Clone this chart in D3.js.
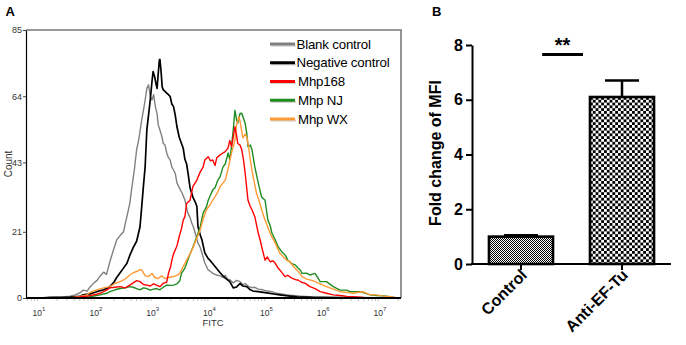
<!DOCTYPE html>
<html>
<head>
<meta charset="utf-8">
<script src="https://cdn.jsdelivr.net/npm/d3@7"></script>
<style>
  body { margin: 0; background: #fff; }
  svg { display: block; font-family: Arial, "Liberation Sans", sans-serif; }
</style>
</head>
<body>
<div id="okvir"></div>
<script>
// Panel A: histogram points, [log10(FITC), count]
const blankControl = [
  [1.00,0],[1.18,0.3],[1.35,0.2],[1.53,0.6],[1.62,1.0],[1.70,1.6],[1.76,2.5],[1.83,2.2],[1.88,3.5],
  [1.95,4.8],[2.00,5.5],[2.06,7.0],[2.12,8.2],[2.17,7.5],[2.23,11.5],[2.28,14.5],[2.35,18.4],[2.41,19.8],
  [2.47,21.0],[2.50,23.5],[2.55,27.5],[2.58,30.0],[2.62,35.5],[2.66,40.6],[2.70,47.0],[2.74,50.5],
  [2.79,56.5],[2.82,59.5],[2.85,62.8],[2.88,66.5],[2.91,67.6],[2.94,64.0],[2.97,62.8],[3.00,64.5],
  [3.03,60.7],[3.06,58.5],[3.08,55.0],[3.11,53.3],[3.14,51.5],[3.17,49.0],[3.20,48.5],[3.23,46.0],
  [3.26,44.5],[3.29,43.8],[3.32,41.5],[3.35,40.6],[3.38,39.5],[3.41,36.5],[3.45,35.0],[3.50,33.3],
  [3.55,31.1],[3.60,27.0],[3.64,25.5],[3.67,23.8],[3.70,22.5],[3.73,20.6],[3.78,17.4],[3.82,16.0],
  [3.85,14.3],[3.90,11.1],[3.96,8.9],[4.00,8.4],[4.04,7.8],[4.10,7.3],[4.17,7.0],[4.22,6.5],[4.26,7.2],
  [4.30,6.0],[4.34,5.8],[4.40,4.8],[4.46,5.6],[4.52,5.2],[4.57,4.2],[4.61,4.6],[4.66,3.8],[4.72,3.3],
  [4.78,3.4],[4.84,2.8],[4.92,2.6],[5.00,2.2],[5.08,2.0],[5.14,1.6],[5.22,1.4],[5.34,1.0],[5.45,0.8],
  [5.58,0.6],[5.75,0.4],[5.93,0.3],[6.20,0.2],[6.60,0.1],[7.00,0.05],[7.30,0]
]
const negativeControl = [
  [1.00,0],[1.30,0.2],[1.53,0.3],[1.70,0.5],[1.76,1.0],[1.88,1.3],[2.00,2.0],[2.12,2.6],[2.23,3.6],
  [2.30,5.0],[2.35,6.5],[2.41,8.0],[2.45,9.0],[2.53,11.0],[2.58,13.5],[2.64,16.0],[2.70,18.0],[2.72,19.5],
  [2.76,22.6],[2.79,29.0],[2.82,35.5],[2.85,41.6],[2.88,53.3],[2.91,58.0],[2.94,62.8],[2.97,68.5],
  [2.99,71.8],[3.02,70.0],[3.04,68.0],[3.06,66.5],[3.08,71.0],[3.10,75.5],[3.11,75.7],[3.13,72.0],
  [3.15,67.0],[3.17,66.0],[3.20,65.5],[3.23,65.0],[3.26,64.5],[3.29,63.9],[3.32,61.5],[3.35,60.7],
  [3.38,58.0],[3.41,54.3],[3.45,51.0],[3.49,49.0],[3.52,47.5],[3.55,44.0],[3.58,42.5],[3.61,39.0],
  [3.64,35.0],[3.69,32.0],[3.73,30.5],[3.76,29.0],[3.78,22.6],[3.82,20.0],[3.85,18.4],[3.90,14.3],
  [3.96,12.5],[3.99,12.0],[4.08,10.0],[4.17,8.0],[4.22,7.0],[4.26,6.3],[4.34,5.2],[4.40,3.2],[4.46,3.5],
  [4.52,4.6],[4.57,3.8],[4.64,3.6],[4.70,2.6],[4.75,2.2],[4.84,2.0],[4.99,1.6],[5.14,1.2],[5.22,1.0],
  [5.40,0.6],[5.52,0.4],[5.80,0.2],[6.20,0.1],[7.00,0.05],[7.30,0]
]
const mhp168 = [
  [1.53,0],[1.70,0.3],[1.83,0.6],[2.00,1.2],[2.06,1.5],[2.17,2.5],[2.23,3.2],[2.32,3.4],[2.41,3.6],
  [2.50,3.2],[2.58,4.1],[2.64,4.8],[2.70,5.5],[2.76,5.2],[2.82,4.3],[2.88,4.1],[2.94,3.8],[3.00,4.5],
  [3.05,4.1],[3.11,3.6],[3.17,4.7],[3.23,5.0],[3.26,7.8],[3.30,10.0],[3.32,12.0],[3.35,14.0],[3.41,16.5],
  [3.45,19.5],[3.49,22.0],[3.52,24.7],[3.55,25.8],[3.58,30.0],[3.64,31.0],[3.69,35.3],[3.73,36.5],
  [3.76,37.4],[3.82,40.0],[3.87,41.5],[3.90,43.8],[3.96,44.8],[4.00,43.5],[4.04,43.8],[4.08,42.0],
  [4.11,44.5],[4.17,45.4],[4.22,46.0],[4.26,46.4],[4.31,47.6],[4.34,50.0],[4.37,48.0],[4.40,51.0],
  [4.43,54.3],[4.46,51.5],[4.48,49.0],[4.52,48.5],[4.55,47.0],[4.58,44.0],[4.61,39.6],[4.66,31.0],
  [4.70,29.0],[4.73,28.0],[4.78,25.8],[4.84,20.6],[4.88,18.0],[4.90,16.3],[4.96,12.0],[5.00,13.0],
  [5.05,11.5],[5.10,11.8],[5.14,11.0],[5.19,9.5],[5.22,8.9],[5.28,7.5],[5.31,6.8],[5.36,7.2],[5.43,6.3],
  [5.50,5.8],[5.54,5.7],[5.60,5.0],[5.66,4.7],[5.75,3.6],[5.84,3.0],[5.93,2.0],[6.04,1.5],[6.16,1.0],
  [6.28,0.8],[6.40,0.5],[6.51,0.4],[6.70,0.2],[7.00,0.1],[7.30,0]
]
const mhpNJ = [
  [1.70,0],[1.88,0.4],[2.06,1.0],[2.17,1.5],[2.23,2.0],[2.32,2.6],[2.41,3.0],[2.50,3.2],[2.58,3.6],
  [2.64,3.4],[2.70,3.0],[2.76,2.6],[2.82,3.2],[2.88,3.0],[2.94,2.5],[3.00,2.8],[3.05,3.0],[3.11,2.6],
  [3.17,3.4],[3.23,4.1],[3.29,4.0],[3.35,4.1],[3.41,4.5],[3.46,5.5],[3.49,7.8],[3.55,9.5],[3.58,11.0],
  [3.62,13.0],[3.67,15.2],[3.72,17.5],[3.76,19.5],[3.82,22.6],[3.87,26.9],[3.93,29.0],[3.96,31.0],
  [4.04,34.3],[4.08,35.0],[4.13,37.4],[4.17,38.5],[4.22,41.6],[4.26,42.5],[4.31,46.0],[4.34,44.0],
  [4.37,48.0],[4.40,53.3],[4.43,59.5],[4.46,56.5],[4.48,55.5],[4.52,58.5],[4.55,58.6],[4.58,57.0],
  [4.61,55.4],[4.64,52.0],[4.66,48.0],[4.70,48.5],[4.73,47.0],[4.78,41.6],[4.84,36.5],[4.90,32.0],
  [4.96,31.0],[5.01,24.7],[5.05,23.0],[5.08,20.6],[5.14,18.4],[5.19,16.3],[5.24,15.0],[5.28,14.2],
  [5.32,13.5],[5.36,12.0],[5.42,11.0],[5.49,10.5],[5.54,9.5],[5.58,8.9],[5.61,7.8],[5.69,7.9],[5.75,7.3],
  [5.84,7.8],[5.93,5.2],[6.04,5.2],[6.16,3.6],[6.28,2.5],[6.40,2.5],[6.45,2.0],[6.63,2.0],[6.81,1.0],
  [6.92,0.8],[7.10,0.6],[7.28,0]
]
const mhpWX = [
  [1.53,0],[1.70,0.5],[1.83,1.0],[1.88,1.8],[2.00,2.6],[2.12,3.2],[2.23,3.6],[2.32,4.6],[2.41,5.2],
  [2.50,6.0],[2.58,7.3],[2.64,8.0],[2.70,8.4],[2.76,9.0],[2.79,8.9],[2.85,7.0],[2.91,6.8],[2.97,7.8],
  [3.02,6.5],[3.08,6.2],[3.14,7.0],[3.20,6.2],[3.26,6.5],[3.35,6.8],[3.41,7.2],[3.46,7.8],[3.52,10.0],
  [3.58,12.0],[3.64,14.0],[3.70,16.3],[3.76,19.0],[3.82,21.6],[3.87,25.0],[3.93,28.0],[3.99,29.5],
  [4.04,31.0],[4.11,33.0],[4.17,35.3],[4.22,36.5],[4.26,37.4],[4.31,41.0],[4.37,46.0],[4.43,50.0],
  [4.46,55.0],[4.50,57.5],[4.52,56.0],[4.57,50.8],[4.61,52.0],[4.64,51.0],[4.67,48.0],[4.70,43.8],
  [4.75,38.5],[4.81,33.2],[4.86,30.5],[4.90,28.0],[4.96,24.7],[5.05,20.5],[5.14,17.4],[5.22,14.2],
  [5.34,12.0],[5.40,11.5],[5.46,10.0],[5.54,8.5],[5.61,6.8],[5.69,6.0],[5.80,5.5],[5.93,4.5],[6.04,3.6],
  [6.16,2.8],[6.28,2.0],[6.40,1.8],[6.51,1.5],[6.68,2.0],[6.81,1.0],[6.92,1.0],[7.05,0.6],[7.16,0.4],
  [7.30,0]
]
const seriesNames = ["Blank control", "Negative control", "Mhp168", "Mhp NJ", "Mhp WX"]
const countTicks = [0, 21, 43, 64, 85]
const fitcDecades = [1, 2, 3, 4, 5, 6, 7]

// Panel B: fold change of MFI
const groups = ["Control", "Anti-EF-Tu"]
const foldChange = [1.0, 6.1]
const foldError = [0.05, 0.6]
const foldTicks = [0, 2, 4, 6, 8]
const sigLevel = 7.65

const seriesColors = ["#808080", "#000000", "#ff0000", "#1f8c1f", "#ff9a35"]
const seriesWidths = [1.4, 1.7, 1.4, 1.4, 1.4]

const okvir = d3.select("#okvir")
  .append("svg")
  .attr("width", 686)
  .attr("height", 345)

okvir.append("rect").attr("width", 686).attr("height", 345).attr("fill", "#fff")

// ---------- PANEL A ----------
const histBox = { left: 26, right: 401, top: 30, bottom: 298 }

const xA = d3.scaleLog()
  .domain([10 ** 0.754, 10 ** 7.352])
  .range([histBox.left, histBox.right])
const yA = d3.scaleLinear()
  .domain([0, 85])
  .range([histBox.bottom, histBox.top])

const panelA = okvir.append("g")

// frame: gray on top and right
panelA.append("path")
  .attr("d", `M${histBox.left},${histBox.top}H${histBox.right}V${histBox.bottom}`)
  .attr("fill", "none")
  .attr("stroke", "#7a7a7a")
  .attr("stroke-width", 1.6)

// minor ticks under the x axis
const minorTicks = xA.ticks().filter(v => Math.abs(Math.log10(v) - Math.round(Math.log10(v))) > 1e-6)
panelA.selectAll(".minor")
  .data(minorTicks)
  .enter().append("line")
    .attr("x1", d => xA(d)).attr("x2", d => xA(d))
    .attr("y1", histBox.bottom).attr("y2", histBox.bottom + 3)
    .attr("stroke", "#999")
    .attr("stroke-width", 0.6)

const line = d3.line()
  .x(d => xA(10 ** d[0]))
  .y(d => yA(d[1]))

const allSeries = [blankControl, negativeControl, mhpNJ, mhpWX, mhp168]
const drawOrder = [0, 1, 3, 4, 2]
panelA.selectAll(".hist")
  .data(drawOrder)
  .enter().append("path")
    .attr("class", "hist")
    .attr("d", (k, i) => line(allSeries[i]))
    .attr("fill", "none")
    .attr("stroke", k => seriesColors[k])
    .attr("stroke-width", k => seriesWidths[k])
    .attr("stroke-linejoin", "round")

// left axis
const axisA = panelA.append("g")
  .attr("transform", `translate(${histBox.left},0)`)
  .call(d3.axisLeft(yA).tickValues(countTicks).tickSize(3).tickSizeOuter(0))
axisA.select(".domain").attr("stroke", "#000").attr("stroke-width", 1.2)
axisA.selectAll("text").attr("font-size", 9).attr("fill", "#333").attr("x", -4)
axisA.selectAll(".tick line").attr("stroke", "#444")

// bottom axis line
panelA.append("line")
  .attr("x1", histBox.left).attr("x2", histBox.right)
  .attr("y1", histBox.bottom).attr("y2", histBox.bottom)
  .attr("stroke", "#000")
  .attr("stroke-width", 2)

const decadeLabels = panelA.selectAll(".decade")
  .data(fitcDecades)
  .enter().append("text")
    .attr("class", "decade")
    .attr("x", d => xA(10 ** d) - 1)
    .attr("y", histBox.bottom + 18)
    .attr("text-anchor", "middle")
    .attr("font-size", 8.5)
    .attr("fill", "#333")
decadeLabels.append("tspan").text("10")
decadeLabels.append("tspan")
  .attr("font-size", 6)
  .attr("dy", -5)
  .text(d => d)

panelA.append("text")
  .attr("x", 213)
  .attr("y", 326)
  .attr("text-anchor", "middle")
  .attr("font-size", 9.5)
  .attr("fill", "#333")
  .text("FITC")

panelA.append("text")
  .attr("transform", "translate(12,164) rotate(-90)")
  .attr("text-anchor", "middle")
  .attr("font-size", 10)
  .attr("fill", "#333")
  .text("Count")

// legend
const legend = panelA.append("g")
const legendRow = d3.scalePoint().domain(seriesNames).range([43.5, 118.5])
legend.selectAll(".leg-shadow")
  .data(seriesNames)
  .enter().append("line")
    .attr("x1", 271).attr("x2", 296)
    .attr("y1", d => legendRow(d) + 2.2).attr("y2", d => legendRow(d) + 2.2)
    .attr("stroke", "#bbb")
    .attr("stroke-width", 2)
    .attr("opacity", 0.6)
legend.selectAll(".leg-line")
  .data(seriesNames)
  .enter().append("line")
    .attr("x1", 270).attr("x2", 295)
    .attr("y1", d => legendRow(d) + 0.5).attr("y2", d => legendRow(d) + 0.5)
    .attr("stroke", (d, i) => seriesColors[i])
    .attr("stroke-width", 3)
legend.selectAll(".leg-text")
  .data(seriesNames)
  .enter().append("text")
    .attr("x", (d, i) => i < 2 ? 296.5 : 298)
    .attr("y", d => legendRow(d) + 5)
    .attr("font-size", 13.3)
    .attr("letter-spacing", -0.2)
    .attr("fill", "#000")
    .text(d => d)

okvir.append("text")
  .attr("x", 5.5).attr("y", 15.5)
  .attr("font-size", 13)
  .attr("font-weight", "bold")
  .text("A")

// ---------- PANEL B ----------
const xB = d3.scaleBand()
  .domain(groups)
  .range([472, 671])
  .paddingInner(0.366)
  .paddingOuter(0.168)
const yB = d3.scaleLinear()
  .domain([0, 8])
  .range([264, 45])

const panelB = okvir.append("g")

const defs = okvir.append("defs")
const fine = defs.append("pattern")
  .attr("id", "check-fine")
  .attr("patternUnits", "userSpaceOnUse")
  .attr("width", 2).attr("height", 2)
fine.append("rect").attr("width", 2).attr("height", 2).attr("fill", "#fff")
fine.append("rect").attr("width", 1).attr("height", 1).attr("fill", "#000")
fine.append("rect").attr("x", 1).attr("y", 1).attr("width", 1).attr("height", 1).attr("fill", "#000")

const coarse = defs.append("pattern")
  .attr("id", "check-coarse")
  .attr("patternUnits", "userSpaceOnUse")
  .attr("x", 590).attr("y", 97)
  .attr("width", 5.6).attr("height", 5.6)
coarse.append("rect").attr("width", 5.6).attr("height", 5.6).attr("fill", "#fff")
coarse.append("rect").attr("width", 2.8).attr("height", 2.8).attr("fill", "#000")
coarse.append("rect").attr("x", 2.8).attr("y", 2.8).attr("width", 2.8).attr("height", 2.8).attr("fill", "#000")

const patterns = ["url(#check-fine)", "url(#check-coarse)"]

// error bars
const capWidth = 34
panelB.selectAll(".err")
  .data(groups)
  .enter().append("path")
    .attr("d", (g, i) => {
      const cx = xB(g) + xB.bandwidth() / 2
      const top = yB(foldChange[i] + foldError[i])
      return `M${cx},${yB(foldChange[i])}V${top}M${cx - capWidth / 2},${top}H${cx + capWidth / 2}`
    })
    .attr("fill", "none")
    .attr("stroke", "#000")
    .attr("stroke-width", 2.5)

panelB.selectAll(".bar")
  .data(groups)
  .enter().append("rect")
    .attr("x", g => xB(g))
    .attr("width", xB.bandwidth())
    .attr("y", (g, i) => yB(foldChange[i]))
    .attr("height", (g, i) => yB(0) - yB(foldChange[i]))
    .attr("fill", (g, i) => patterns[i])
    .attr("stroke", "#000")
    .attr("stroke-width", 2.6)

const axisYB = panelB.append("g")
  .attr("transform", "translate(472,0)")
  .call(d3.axisLeft(yB).tickValues(foldTicks).tickSize(6).tickSizeOuter(0))
axisYB.select(".domain").attr("stroke-width", 2)
axisYB.selectAll(".tick line").attr("stroke-width", 2)
axisYB.selectAll("text")
  .attr("font-size", 16)
  .attr("font-weight", "bold")
  .attr("fill", "#000")
  .attr("x", -9)

const axisXB = panelB.append("g")
  .attr("transform", "translate(0,264)")
  .call(d3.axisBottom(xB).tickSize(6).tickSizeOuter(0))
axisXB.select(".domain")
  .attr("d", "M471,0H671")
  .attr("stroke-width", 2)
axisXB.selectAll(".tick line").attr("stroke-width", 2)
axisXB.selectAll("text")
  .attr("font-size", 16)
  .attr("font-weight", "bold")
  .attr("fill", "#000")
  .attr("text-anchor", "end")
  .attr("dy", 0)
  .attr("transform", "translate(7,12) rotate(-45)")
  .attr("y", 0)

panelB.append("text")
  .attr("transform", "translate(441,153) rotate(-90)")
  .attr("text-anchor", "middle")
  .attr("font-size", 16)
  .attr("font-weight", "bold")
  .text("Fold change of MFI")

// significance
const sigX1 = xB(groups[0]) + xB.bandwidth() * 0.83
const sigX2 = xB(groups[1]) - 7
panelB.append("line")
  .attr("x1", sigX1).attr("x2", sigX2)
  .attr("y1", yB(sigLevel)).attr("y2", yB(sigLevel))
  .attr("stroke", "#000")
  .attr("stroke-width", 3)
panelB.append("text")
  .attr("x", (sigX1 + sigX2) / 2)
  .attr("y", yB(sigLevel) - 3)
  .attr("text-anchor", "middle")
  .attr("font-size", 20)
  .attr("font-weight", "bold")
  .text("**")

okvir.append("text")
  .attr("x", 432).attr("y", 15.5)
  .attr("font-size", 13)
  .attr("font-weight", "bold")
  .text("B")
</script>
</body>
</html>
